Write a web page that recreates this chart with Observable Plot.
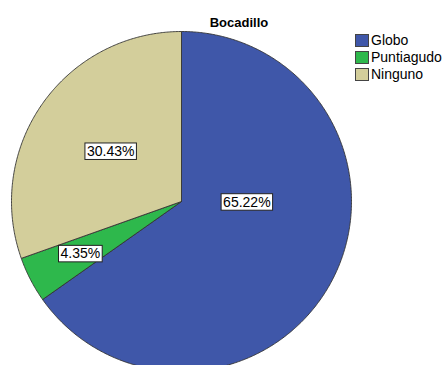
<!DOCTYPE html>
<html>
<head>
<meta charset="utf-8">
<script src="https://cdn.jsdelivr.net/npm/d3@7"></script>
<script src="https://cdn.jsdelivr.net/npm/@observablehq/plot@0.6"></script>
<style>
  html, body { margin: 0; padding: 0; background: #fff; overflow: hidden; }
  #wrap { position: relative; width: 444px; height: 365px; font-family: Arial, "Liberation Sans", sans-serif; }
  #title { position: absolute; left: 189px; top: 16px; width: 100px; text-align: center; font-weight: bold; font-size: 13px; line-height: 13px; color: #000; }
  #legend { position: absolute; left: 355px; top: 32px; font-size: 14px; line-height: 17px; color: #000; }
  .item { position: relative; height: 17px; padding-left: 16px; white-space: nowrap; }
  .sw { position: absolute; left: 0; top: 2px; width: 12px; height: 11px; border: 1px solid #444; }
</style>
</head>
<body>
<div id="wrap">
  <div id="chart"></div>
  <div id="title"></div>
  <div id="legend"></div>
</div>
<script>
const title = "Bocadillo";
const categories = ["Globo", "Puntiagudo", "Ninguno"];
const percents = [65.22, 4.35, 30.43];
const labels = ["65.22%", "4.35%", "30.43%"];
const colors = ["#3f57a9", "#2eb84c", "#d3ce9b"];

// label placement styling (radius fraction along slice bisector, pixel nudges)
const labelStyle = {
  Globo: {r: 0.38, dx: 8, dy: -29},
  Puntiagudo: {r: 0.67, dx: 0, dy: 0},
  Ninguno: {r: 0.51, dx: 0, dy: 0}
};

const data = categories.map((c, i) => ({category: c, value: percents[i], label: labels[i]}));
const arcs = d3.pie().sort(null).value(d => d.value).startAngle(0).endAngle(2 * Math.PI)(data);

// polygon points for each slice, derived from the pie angles
const pts = [];
for (const a of arcs) {
  const c = a.data.category;
  pts.push({category: c, x: 0, y: 0});
  const n = Math.max(2, Math.ceil((a.endAngle - a.startAngle) / (Math.PI / 360)));
  for (let k = 0; k <= n; k++) {
    const t = a.startAngle + (a.endAngle - a.startAngle) * k / n;
    pts.push({category: c, x: Math.sin(t), y: Math.cos(t)});
  }
  pts.push({category: c, x: 0, y: 0});
}

const labelPts = arcs.map(a => {
  const m = (a.startAngle + a.endAngle) / 2;
  const s = labelStyle[a.data.category];
  return {category: a.data.category, label: a.data.label, x: s.r * Math.sin(m), y: s.r * Math.cos(m), dx: s.dx, dy: s.dy};
});

const plot = Plot.plot({
  width: 444,
  height: 365,
  marginLeft: 11,
  marginRight: 93,
  marginTop: 31,
  marginBottom: -6,
  x: {domain: [-1, 1], axis: null},
  y: {domain: [-1, 1], axis: null},
  color: {domain: categories, range: colors},
  style: {fontFamily: 'Arial, "Liberation Sans", sans-serif', background: "#fff", overflow: "hidden"},
  marks: [
    Plot.line(pts, {x: "x", y: "y", z: "category", fill: "category", stroke: "#333", strokeWidth: 0.9, strokeLinejoin: "round", curve: "linear"}),
    ...labelPts.map(p => Plot.text([p], {x: "x", y: "y", text: "label", dx: p.dx, dy: p.dy, fontSize: 14, fill: "#000"}))
  ]
});
document.getElementById("chart").appendChild(plot);

// white boxes with black border behind each percentage label
plot.querySelectorAll('g[aria-label="text"] text').forEach(t => {
  const b = t.getBBox();
  const tr = t.getAttribute("transform");
  const r = document.createElementNS("http://www.w3.org/2000/svg", "rect");
  r.setAttribute("x", b.x - 2);
  r.setAttribute("y", b.y);
  r.setAttribute("width", b.width + 4);
  r.setAttribute("height", b.height + 0.5);
  r.setAttribute("fill", "#fff");
  r.setAttribute("stroke", "#222");
  r.setAttribute("stroke-width", 1);
  if (tr) r.setAttribute("transform", tr);
  t.parentNode.insertBefore(r, t);
});

document.getElementById("title").textContent = title;
const legend = document.getElementById("legend");
categories.forEach((c, i) => {
  const item = document.createElement("div");
  item.className = "item";
  const sw = document.createElement("span");
  sw.className = "sw";
  sw.style.background = colors[i];
  item.appendChild(sw);
  item.appendChild(document.createTextNode(c));
  legend.appendChild(item);
});
</script>
</body>
</html>
